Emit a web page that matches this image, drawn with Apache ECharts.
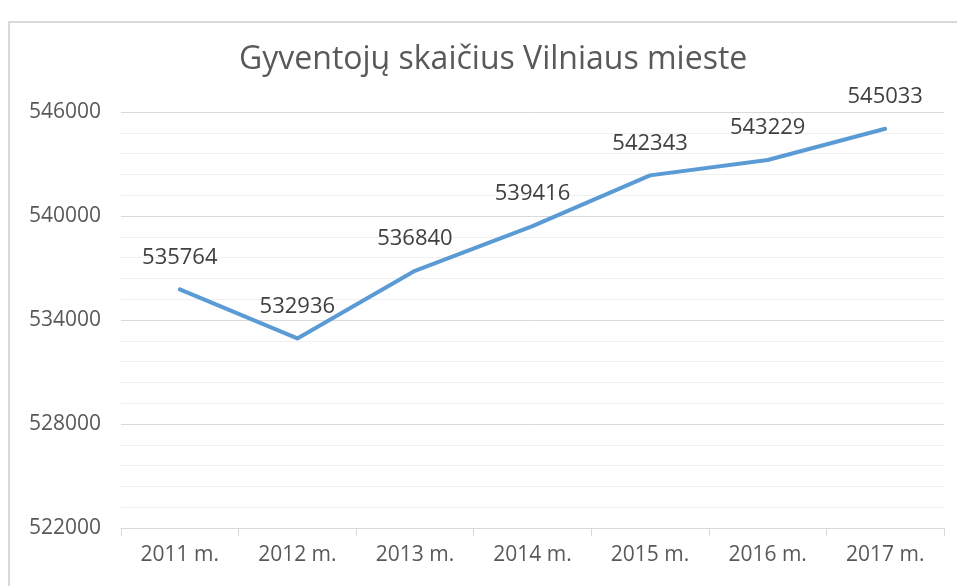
<!DOCTYPE html>
<html>
<head>
<meta charset="utf-8">
<script src="https://cdn.jsdelivr.net/npm/echarts@6/dist/echarts.min.js"></script>
<style>
  html, body { margin: 0; padding: 0; background: #fff; }
  #myChart { width: 957px; height: 586px; }
</style>
</head>
<body>
<div id="myChart"></div>
<script>
// Data
var years = ['2011 m.', '2012 m.', '2013 m.', '2014 m.', '2015 m.', '2016 m.', '2017 m.'];
var population = [535764, 532936, 536840, 539416, 542343, 543229, 545033];
var yMin = 522000;
var yMax = 546000;
var yStep = 6000;

var textColor = '#595959';
var fontName = 'Open Sans';

// Initialize the ECharts instance based on the prepared DOM
var myChart = echarts.init(document.getElementById('myChart'));

var option = {
  backgroundColor: '#fff',
  animation: false,
  title: {
    text: 'Gyventojų skaičius Vilniaus mieste',
    left: 234,
    top: 39,
    textStyle: {
      fontFamily: fontName,
      fontSize: 32,
      fontWeight: 'normal',
      color: textColor
    }
  },
  // outer chart frame
  graphic: [{
    type: 'rect',
    shape: { x: 9, y: 22, width: 980, height: 600 },
    style: { fill: 'none', stroke: '#d9d9d9', lineWidth: 2 },
    silent: true
  }],
  grid: {
    left: 121,
    right: 13,
    top: 112,
    bottom: 58
  },
  xAxis: {
    type: 'category',
    data: years,
    boundaryGap: true,
    axisLine: { lineStyle: { color: '#d9d9d9', width: 1 } },
    axisTick: { show: true, length: 8, lineStyle: { color: '#d9d9d9' } },
    axisLabel: {
      margin: 17,
      fontFamily: fontName,
      fontSize: 21,
      color: textColor
    }
  },
  yAxis: {
    type: 'value',
    min: yMin,
    max: yMax,
    interval: yStep,
    axisLine: { show: false },
    axisTick: { show: false },
    axisLabel: {
      margin: 20,
      fontFamily: fontName,
      fontSize: 21,
      color: textColor,
      formatter: function (v) { return String(v); }
    },
    splitLine: { lineStyle: { color: '#d9d9d9', width: 1 } },
    minorTick: { show: false, splitNumber: 5 },
    minorSplitLine: { show: true, lineStyle: { color: '#f0f0f0', width: 1 } }
  },
  series: [{
    name: 'Gyventojų skaičius',
    type: 'line',
    data: population,
    symbol: 'circle',
    symbolSize: 2,
    showSymbol: true,
    itemStyle: { color: 'rgba(91,155,213,0)', borderWidth: 0 },
    lineStyle: { color: '#5b9bd5', width: 4, cap: 'round', join: 'round' },
    label: {
      show: true,
      position: 'top',
      distance: 20,
      fontFamily: fontName,
      fontSize: 22,
      color: '#404040'
    },
    labelLayout: { hideOverlap: false }
  }]
};

myChart.setOption(option);
</script>
</body>
</html>
